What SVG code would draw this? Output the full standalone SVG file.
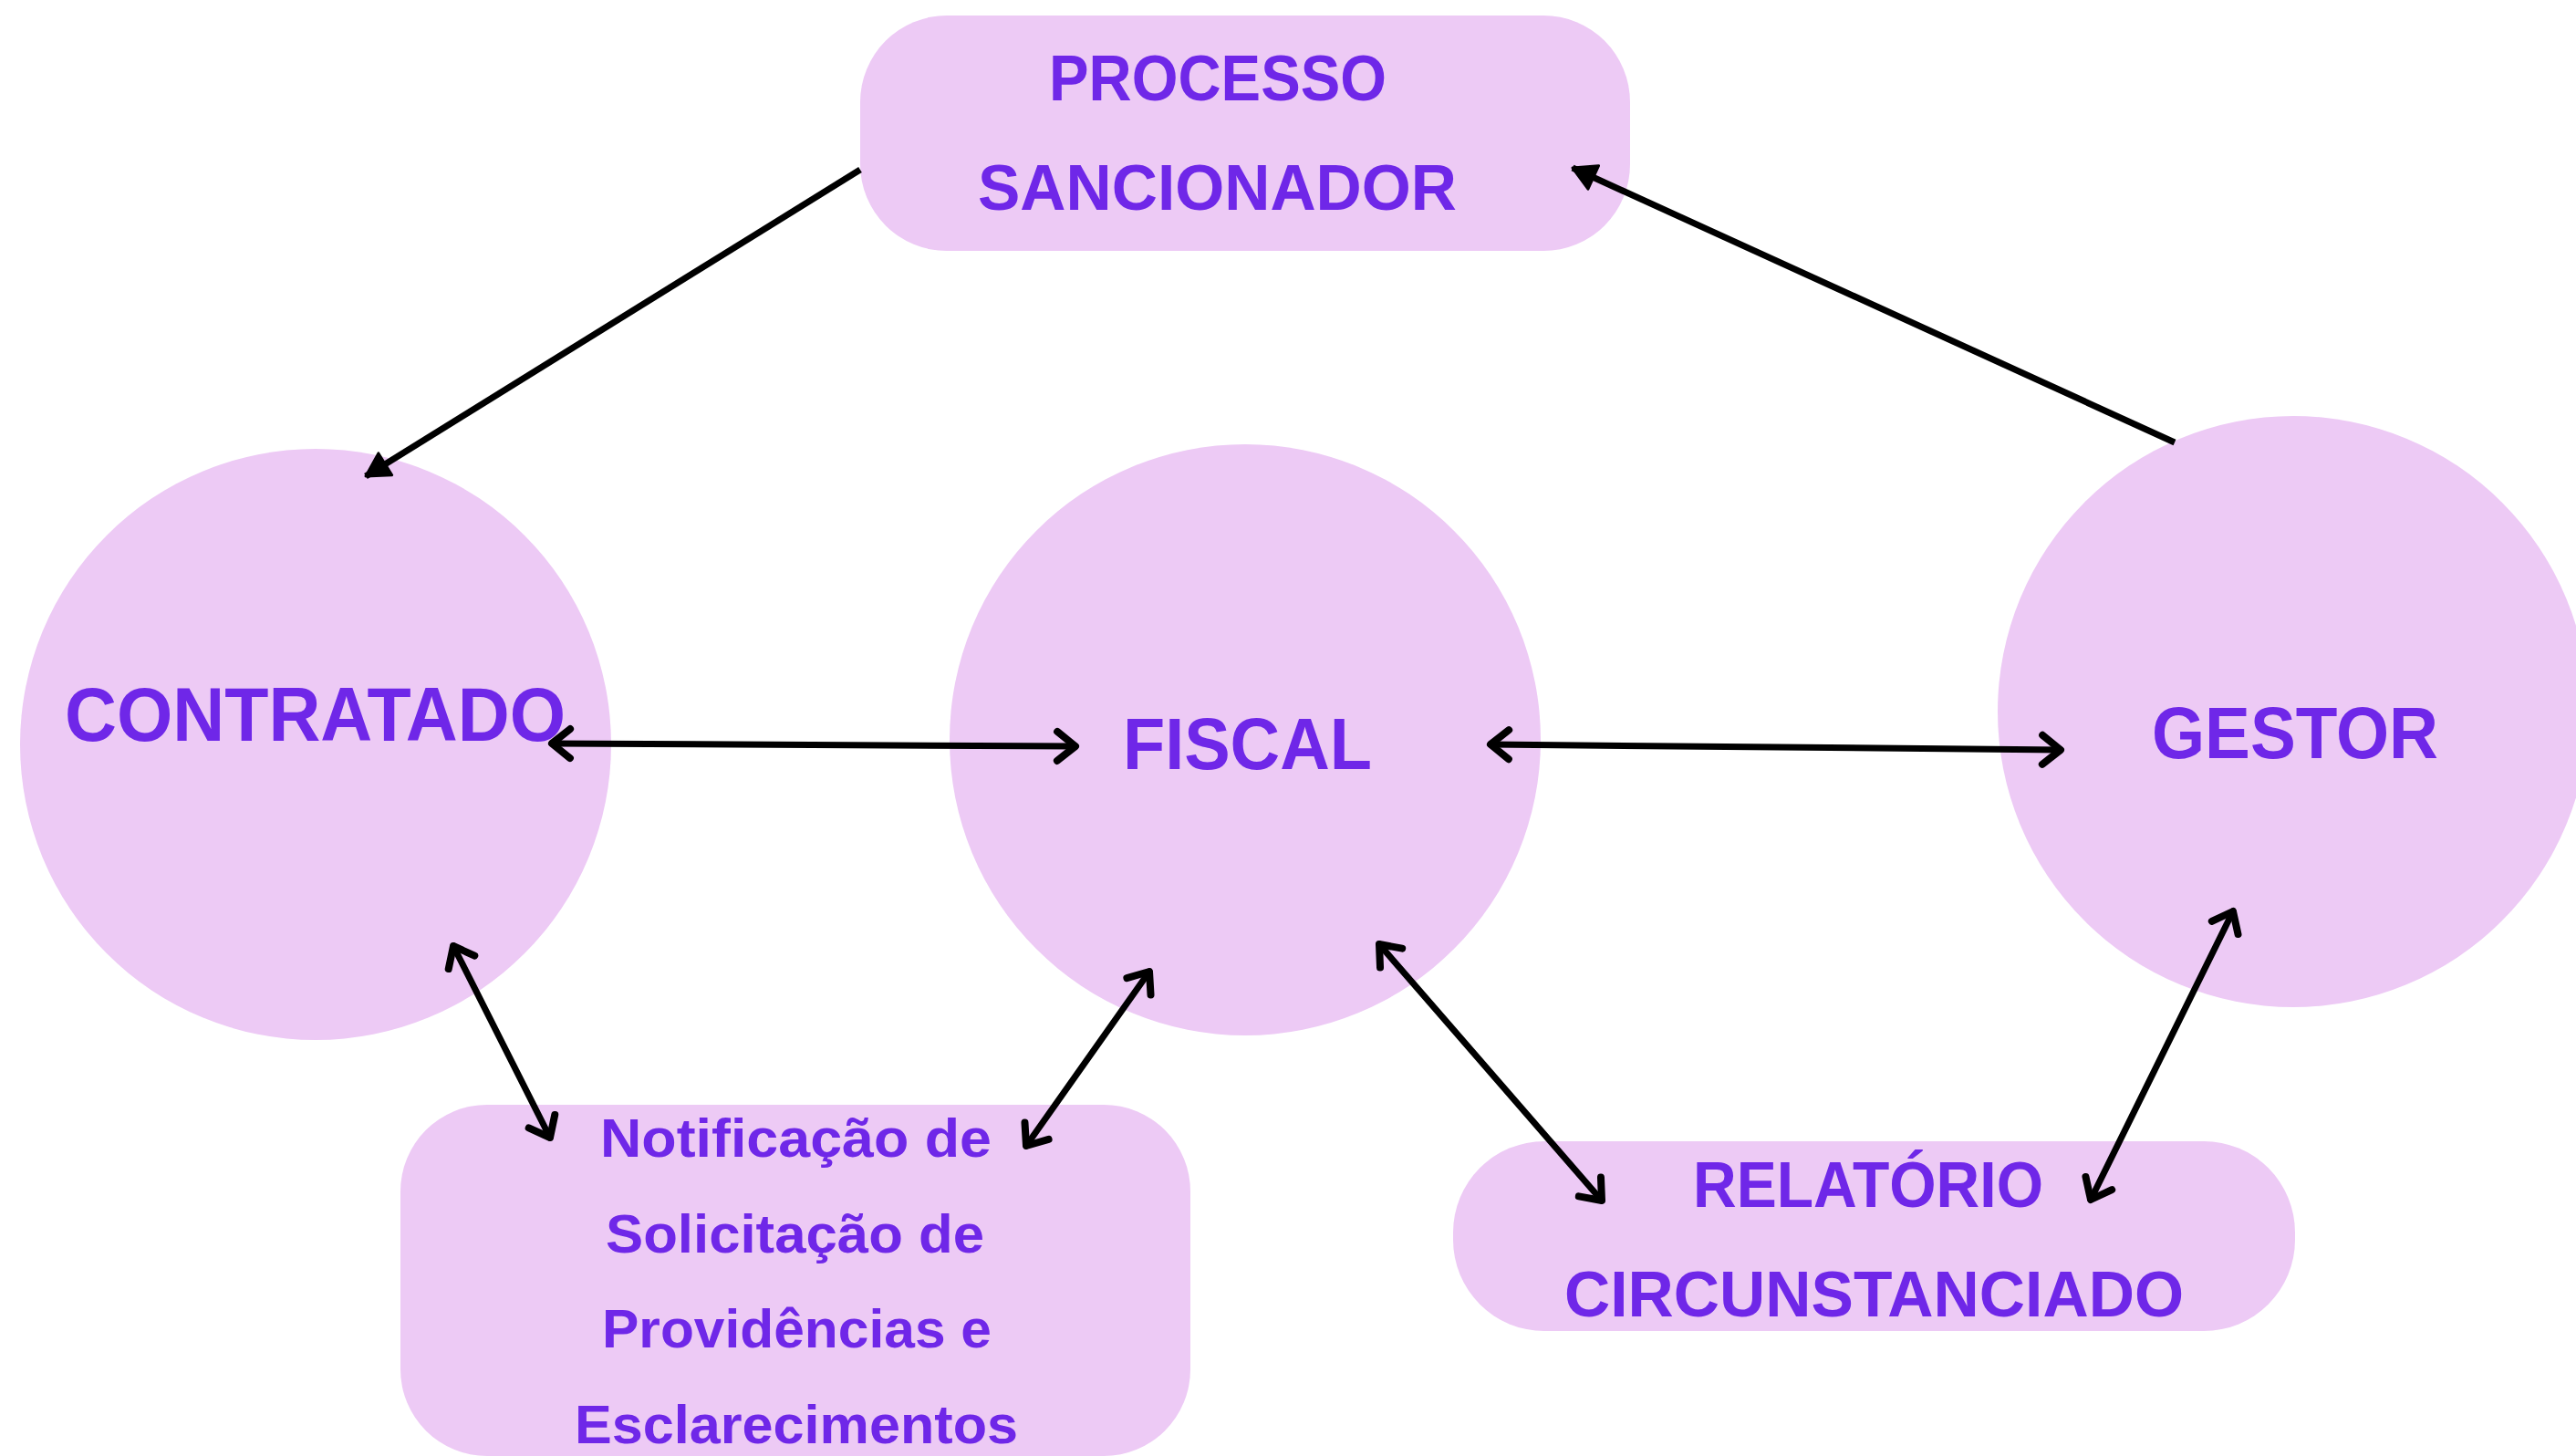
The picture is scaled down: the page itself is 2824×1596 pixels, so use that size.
<svg xmlns="http://www.w3.org/2000/svg" width="2824" height="1596" viewBox="0 0 2824 1596">
  <style>
    .shape { fill: #EDCAF5; }
    .lbl { font-family: "Liberation Sans", Arial, sans-serif; font-weight: bold; fill: #6F27E8; }
    .conn { fill: none; stroke: #000; stroke-width: 7; }
  </style>
  <defs>
    <marker id="open" viewBox="-30 -22 36 44" refX="0" refY="0" markerWidth="36" markerHeight="44" markerUnits="userSpaceOnUse" orient="auto-start-reverse" overflow="visible">
      <path d="M-20,-16 L0,0 L-20,16" fill="none" stroke="#000" stroke-width="8" stroke-linecap="round" stroke-linejoin="round"/>
    </marker>
    <marker id="solid" viewBox="-30 -22 36 44" refX="0" refY="0" markerWidth="36" markerHeight="44" markerUnits="userSpaceOnUse" orient="auto" overflow="visible">
      <path d="M-25,-14 L0,0 L-25,14 Z" fill="#000" stroke="#000" stroke-width="3" stroke-linejoin="round"/>
    </marker>
  </defs>
  <rect width="2824" height="1596" fill="#FFFFFF"/>

  <g id="processo-sancionador">
    <rect class="shape" x="943" y="17" width="844" height="258" rx="95" ry="95"/>
    <text class="lbl" x="1150" y="110" font-size="71" textLength="370" lengthAdjust="spacingAndGlyphs">PROCESSO</text>
    <text class="lbl" x="1072" y="230" font-size="71" textLength="525" lengthAdjust="spacingAndGlyphs">SANCIONADOR</text>
  </g>

  <g id="contratado">
    <circle class="shape" cx="346" cy="816" r="324"/>
    <text class="lbl" x="71" y="812" font-size="83" textLength="549" lengthAdjust="spacingAndGlyphs">CONTRATADO</text>
  </g>

  <g id="fiscal">
    <circle class="shape" cx="1365" cy="811" r="324"/>
    <text class="lbl" x="1231" y="843" font-size="80" textLength="273" lengthAdjust="spacingAndGlyphs">FISCAL</text>
  </g>

  <g id="gestor">
    <circle class="shape" cx="2514" cy="780" r="324"/>
    <text class="lbl" x="2359" y="831" font-size="80" textLength="314" lengthAdjust="spacingAndGlyphs">GESTOR</text>
  </g>

  <g id="notificacao">
    <rect class="shape" x="439" y="1211" width="866" height="385" rx="95" ry="95"/>
    <text class="lbl" x="658" y="1268" font-size="59" textLength="429" lengthAdjust="spacingAndGlyphs">Notificação de</text>
    <text class="lbl" x="664" y="1373" font-size="59" textLength="415" lengthAdjust="spacingAndGlyphs">Solicitação de</text>
    <text class="lbl" x="660" y="1477" font-size="59" textLength="427" lengthAdjust="spacingAndGlyphs">Providências e</text>
    <text class="lbl" x="630" y="1582" font-size="59" textLength="486" lengthAdjust="spacingAndGlyphs">Esclarecimentos</text>
  </g>

  <g id="relatorio">
    <rect class="shape" x="1593" y="1251" width="923" height="208" rx="100" ry="100"/>
    <text class="lbl" x="1856" y="1323" font-size="71" textLength="384" lengthAdjust="spacingAndGlyphs">RELATÓRIO</text>
    <text class="lbl" x="1715" y="1443" font-size="71" textLength="679" lengthAdjust="spacingAndGlyphs">CIRCUNSTANCIADO</text>
  </g>

  <g id="connectors">
    <path class="conn" d="M943,186 L401,522" marker-end="url(#solid)"/>
    <path class="conn" d="M2384,485 L1724,184" marker-end="url(#solid)"/>
    <path class="conn" d="M605,815 L1179,818" stroke-linecap="round" marker-start="url(#open)" marker-end="url(#open)"/>
    <path class="conn" d="M1634,816 L2259,822" stroke-linecap="round" marker-start="url(#open)" marker-end="url(#open)"/>
    <path class="conn" d="M497,1037 L603,1247" stroke-linecap="round" marker-start="url(#open)" marker-end="url(#open)"/>
    <path class="conn" d="M1260,1065 L1125,1256" stroke-linecap="round" marker-start="url(#open)" marker-end="url(#open)"/>
    <path class="conn" d="M1512,1035 L1756,1316" stroke-linecap="round" marker-start="url(#open)" marker-end="url(#open)"/>
    <path class="conn" d="M2448,999 L2292,1315" stroke-linecap="round" marker-start="url(#open)" marker-end="url(#open)"/>
  </g>
</svg>
